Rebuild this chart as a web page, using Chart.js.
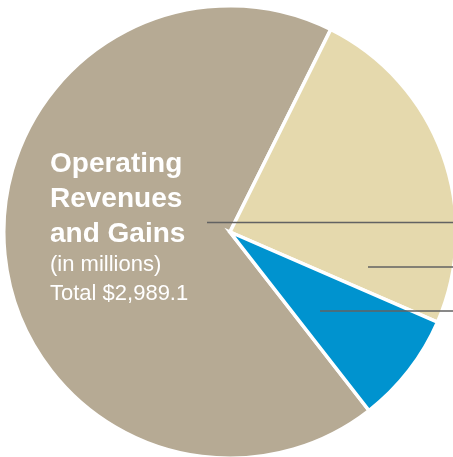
<!DOCTYPE html>
<html>
<head>
<meta charset="utf-8">
<script src="https://cdn.jsdelivr.net/npm/chart.js@4"></script>
<style>
  html, body { margin: 0; padding: 0; background: #fff; overflow: hidden; }
  #wrap { position: absolute; left: 0; top: 0; width: 460px; height: 462px; }
</style>
</head>
<body>
<div id="wrap"><canvas id="pieCanvas"></canvas></div>
<script>
// operating revenues and gains, in millions (total 2,989.1)
const categories = ['Revenue group A', 'Revenue group B', 'Revenue group C'];
const revenueValues = [2028.8, 722.8, 237.5];
const sliceColors = ['#b6aa94', '#e5d9ad', '#0093cf'];
const titleLines = ['Operating', 'Revenues', 'and Gains'];
const subLines = ['(in millions)', 'Total $2,989.1'];

// center text + leader lines going off to the right
const annotations = {
    id: 'annotations',
    afterDatasetsDraw(chart) {
        const ctx = chart.ctx;
        const arc = chart.getDatasetMeta(0).data[0];
        const cx = arc.x, cy = arc.y;
        const right = chart.width;

        ctx.save();
        ctx.strokeStyle = '#626262';
        ctx.lineWidth = 1.5;
        // one leader per slice: [start x offset, y offset] from pie center
        const leaders = [[-23, -9.5], [138, 35], [90, 79]];
        leaders.forEach(function (l) {
            ctx.beginPath();
            ctx.moveTo(cx + l[0], cy + l[1]);
            ctx.lineTo(right, cy + l[1]);
            ctx.stroke();
        });

        ctx.fillStyle = '#ffffff';
        ctx.textAlign = 'left';
        ctx.textBaseline = 'alphabetic';
        const tx = cx - 180;
        ctx.font = 'bold 28px "Liberation Sans", Arial, sans-serif';
        titleLines.forEach(function (t, i) {
            ctx.fillText(t, tx, cy - 60 + i * 35);
        });
        ctx.font = '22px "Liberation Sans", Arial, sans-serif';
        ctx.fillText(subLines[0], tx, cy + 39);
        ctx.fillText(subLines[1], tx, cy + 68);
        ctx.restore();
    }
};

const pieConfig = {
    type: 'pie',
    data: {
        labels: categories,
        datasets: [{
            data: revenueValues,
            backgroundColor: sliceColors,
            borderColor: '#ffffff',
            borderWidth: 3.5,
            borderJoinStyle: 'miter'
        }]
    },
    options: {
        responsive: true,
        maintainAspectRatio: false,
        animation: false,
        rotation: 142.1,
        layout: {
            padding: { left: 2, right: 2, top: 4, bottom: 2 }
        },
        plugins: {
            legend: { display: false },
            tooltip: { enabled: false }
        }
    },
    plugins: [annotations]
};

const pieChart = new Chart(document.getElementById('pieCanvas').getContext('2d'), pieConfig);
</script>
</body>
</html>
